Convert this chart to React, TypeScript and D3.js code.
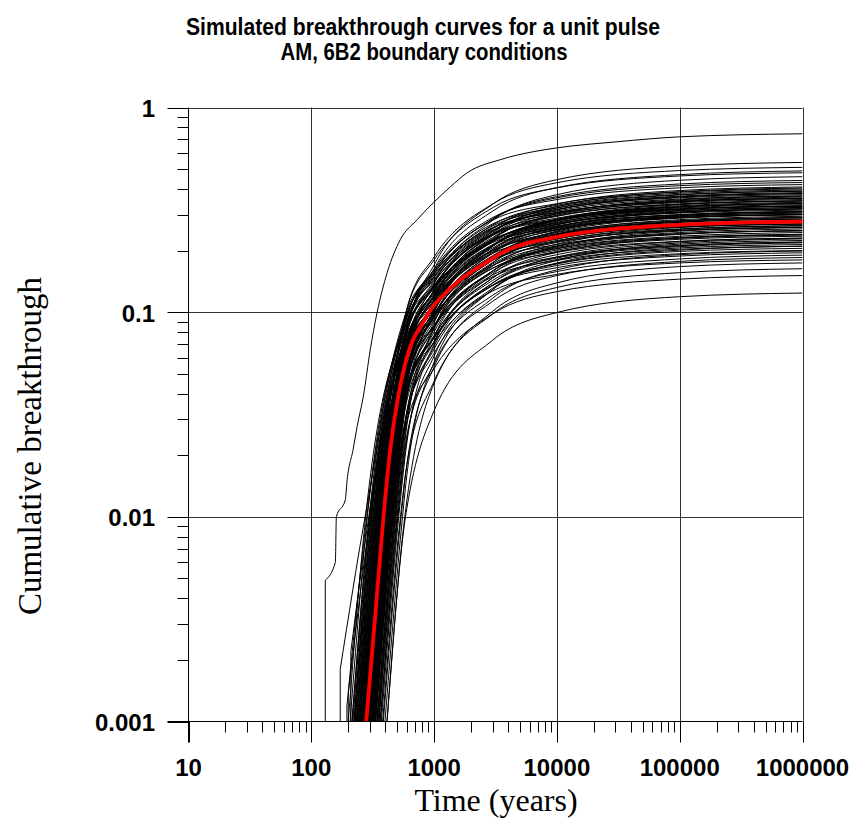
import React from 'react';
import * as d3 from 'd3';

// ---------- data ----------
const titleLines = ['Simulated breakthrough curves for a unit pulse', 'AM, 6B2 boundary conditions'];
const xLabel = 'Time (years)';
const yLabel = 'Cumulative breakthrough';

const xTickValues = [10, 100, 1000, 10000, 100000, 1000000];
const xTickLabels = ['10', '100', '1000', '10000', '100000', '1000000'];
const yTickValues = [0.001, 0.01, 0.1, 1];
const yTickLabels = ['0.001', '0.01', '0.1', '1'];

// knot times at which every simulated curve is sampled (after it reaches 0.01)
const knotTimes = [600, 1000, 3000, 10000, 100000, 1000000];

// first point of each simulated curve (time, value)
const startTime = [292, 256, 282, 247, 313, 275, 241, 304, 232, 267, 293, 223, 281, 257, 324, 214, 296, 247, 271, 341,
  237, 285, 313, 207, 261, 299, 228, 274, 330, 251, 288, 363, 200, 241, 277, 318, 265, 305, 350, 222,
  292, 256, 322, 234, 282, 372, 215, 271, 311, 249, 344, 286, 228, 315, 398, 264, 303, 366, 242, 334,
  292, 386, 280, 324, 356, 259, 413, 381, 320, 414, 172, 200, 210, 195,
  255, 307, 234, 282, 225, 327, 272, 249, 314, 218, 303, 264, 333, 243, 279, 307, 269, 354, 324, 298,
  261, 346, 318, 269, 263, 334];
const startValue = [0.001, 0.001, 0.001, 0.001, 0.001, 0.001, 0.001, 0.001, 0.001, 0.001, 0.001, 0.001, 0.001, 0.001, 0.001, 0.001, 0.001, 0.001, 0.001, 0.001,
  0.001, 0.001, 0.001, 0.001, 0.001, 0.001, 0.001, 0.001, 0.001, 0.001, 0.001, 0.001, 0.001, 0.001, 0.001, 0.001, 0.001, 0.001, 0.001, 0.001,
  0.001, 0.001, 0.001, 0.001, 0.001, 0.001, 0.001, 0.001, 0.001, 0.001, 0.001, 0.001, 0.001, 0.001, 0.001, 0.001, 0.001, 0.001, 0.001, 0.001,
  0.001, 0.001, 0.001, 0.001, 0.001, 0.001, 0.001, 0.001, 0.001, 0.001, 0.0018, 0.0014, 0.0022, 0.0012,
  0.001, 0.001, 0.001, 0.001, 0.001, 0.001, 0.001, 0.001, 0.001, 0.001, 0.001, 0.001, 0.001, 0.001, 0.001, 0.001, 0.001, 0.001, 0.001, 0.001,
  0.001, 0.001, 0.001, 0.001, 0.001, 0.001];
// time at which each curve reaches 0.01
const time01 = [406, 356, 392, 342, 434, 380, 333, 421, 321, 370, 406, 308, 388, 356, 448, 296, 409, 342, 375, 472,
  328, 394, 432, 286, 361, 414, 316, 379, 456, 348, 399, 502, 277, 333, 383, 440, 367, 422, 484, 307,
  405, 354, 446, 325, 391, 515, 299, 376, 432, 345, 476, 398, 317, 438, 553, 367, 422, 508, 337, 466,
  406, 538, 390, 452, 498, 362, 577, 532, 449, 585, 274, 283, 294, 303,
  352, 425, 324, 390, 311, 452, 377, 345, 435, 302, 419, 365, 461, 336, 385, 425, 372, 490, 450, 413,
  362, 481, 442, 374, 364, 462];
// values at the knot times
const at600 = [0.082, 0.104, 0.083, 0.103, 0.063, 0.084, 0.095, 0.062, 0.096, 0.079, 0.066, 0.097, 0.072, 0.080, 0.050, 0.097, 0.061, 0.079, 0.071, 0.039,
  0.082, 0.065, 0.052, 0.094, 0.071, 0.056, 0.081, 0.065, 0.044, 0.070, 0.059, 0.028, 0.090, 0.072, 0.061, 0.046, 0.062, 0.049, 0.032, 0.075,
  0.053, 0.061, 0.041, 0.066, 0.053, 0.023, 0.071, 0.054, 0.042, 0.058, 0.033, 0.048, 0.062, 0.039, 0.016, 0.050, 0.042, 0.024, 0.053, 0.032,
  0.042, 0.018, 0.043, 0.032, 0.025, 0.043, 0.012, 0.018, 0.029, 0.011, 0.099, 0.102, 0.077, 0.083,
  0.085, 0.059, 0.090, 0.069, 0.090, 0.047, 0.068, 0.074, 0.049, 0.085, 0.052, 0.066, 0.040, 0.068, 0.058, 0.046, 0.057, 0.029, 0.039, 0.047,
  0.054, 0.031, 0.037, 0.044, 0.087, 0.045];
const at1000 = [0.170, 0.186, 0.163, 0.180, 0.138, 0.154, 0.162, 0.129, 0.159, 0.142, 0.129, 0.155, 0.133, 0.139, 0.111, 0.152, 0.120, 0.135, 0.127, 0.100,
  0.135, 0.119, 0.107, 0.143, 0.124, 0.110, 0.131, 0.116, 0.096, 0.120, 0.108, 0.084, 0.135, 0.119, 0.109, 0.095, 0.109, 0.096, 0.083, 0.118,
  0.098, 0.104, 0.085, 0.106, 0.095, 0.070, 0.108, 0.094, 0.083, 0.095, 0.072, 0.086, 0.097, 0.076, 0.057, 0.085, 0.077, 0.061, 0.086, 0.066,
  0.075, 0.054, 0.075, 0.063, 0.056, 0.071, 0.045, 0.046, 0.053, 0.033, 0.149, 0.156, 0.117, 0.131,
  0.148, 0.121, 0.149, 0.127, 0.145, 0.104, 0.122, 0.125, 0.102, 0.133, 0.101, 0.114, 0.089, 0.113, 0.104, 0.091, 0.099, 0.076, 0.080, 0.086,
  0.092, 0.068, 0.072, 0.075, 0.157, 0.115];
const at3000 = [0.337, 0.338, 0.312, 0.324, 0.281, 0.286, 0.290, 0.256, 0.282, 0.258, 0.248, 0.270, 0.247, 0.250, 0.226, 0.257, 0.229, 0.242, 0.232, 0.210,
  0.240, 0.221, 0.212, 0.238, 0.223, 0.210, 0.227, 0.212, 0.196, 0.214, 0.202, 0.182, 0.219, 0.212, 0.199, 0.187, 0.196, 0.185, 0.174, 0.200,
  0.182, 0.186, 0.168, 0.185, 0.172, 0.153, 0.180, 0.169, 0.159, 0.169, 0.147, 0.156, 0.164, 0.147, 0.129, 0.152, 0.143, 0.129, 0.149, 0.131,
  0.136, 0.117, 0.135, 0.121, 0.113, 0.127, 0.101, 0.098, 0.098, 0.073, 0.241, 0.259, 0.194, 0.222,
  0.267, 0.240, 0.264, 0.237, 0.252, 0.211, 0.222, 0.224, 0.203, 0.225, 0.194, 0.206, 0.180, 0.201, 0.189, 0.175, 0.179, 0.159, 0.159, 0.159,
  0.164, 0.139, 0.139, 0.135, 0.285, 0.243];
const at1e4 = [0.444, 0.429, 0.406, 0.405, 0.375, 0.367, 0.355, 0.337, 0.339, 0.328, 0.323, 0.323, 0.317, 0.312, 0.302, 0.307, 0.298, 0.296, 0.294, 0.284,
  0.288, 0.284, 0.279, 0.282, 0.279, 0.274, 0.272, 0.269, 0.261, 0.262, 0.259, 0.249, 0.258, 0.254, 0.252, 0.247, 0.245, 0.240, 0.235, 0.239,
  0.234, 0.228, 0.222, 0.221, 0.219, 0.209, 0.214, 0.211, 0.207, 0.204, 0.196, 0.198, 0.196, 0.191, 0.179, 0.186, 0.184, 0.174, 0.179, 0.173,
  0.172, 0.161, 0.169, 0.158, 0.151, 0.153, 0.139, 0.132, 0.126, 0.0996, 0.284, 0.308, 0.231, 0.264,
  0.333, 0.316, 0.318, 0.305, 0.302, 0.282, 0.282, 0.275, 0.267, 0.269, 0.253, 0.257, 0.241, 0.242, 0.240, 0.228, 0.224, 0.215, 0.210, 0.205,
  0.201, 0.186, 0.181, 0.165, 0.362, 0.328];
const at1e5 = [0.518, 0.492, 0.470, 0.463, 0.441, 0.423, 0.405, 0.393, 0.386, 0.376, 0.374, 0.367, 0.365, 0.357, 0.354, 0.348, 0.346, 0.338, 0.337, 0.335,
  0.328, 0.327, 0.326, 0.319, 0.318, 0.317, 0.309, 0.308, 0.307, 0.299, 0.298, 0.296, 0.291, 0.290, 0.289, 0.288, 0.280, 0.278, 0.278, 0.271,
  0.269, 0.261, 0.259, 0.251, 0.251, 0.249, 0.242, 0.241, 0.240, 0.232, 0.230, 0.227, 0.222, 0.221, 0.215, 0.212, 0.211, 0.206, 0.203, 0.201,
  0.198, 0.191, 0.193, 0.182, 0.177, 0.174, 0.167, 0.156, 0.145, 0.119, 0.320, 0.348, 0.261, 0.300,
  0.381, 0.369, 0.362, 0.351, 0.343, 0.331, 0.323, 0.314, 0.312, 0.305, 0.293, 0.294, 0.283, 0.275, 0.275, 0.264, 0.255, 0.254, 0.245, 0.235,
  0.230, 0.218, 0.209, 0.188, 0.415, 0.388];
const at1e6 = [0.539, 0.510, 0.490, 0.480, 0.459, 0.440, 0.420, 0.409, 0.400, 0.390, 0.390, 0.380, 0.380, 0.370, 0.369, 0.360, 0.360, 0.350, 0.350, 0.349,
  0.340, 0.340, 0.339, 0.330, 0.330, 0.330, 0.320, 0.320, 0.319, 0.310, 0.310, 0.309, 0.300, 0.300, 0.300, 0.299, 0.290, 0.290, 0.289, 0.280,
  0.280, 0.270, 0.269, 0.260, 0.260, 0.259, 0.250, 0.250, 0.250, 0.240, 0.240, 0.235, 0.230, 0.230, 0.224, 0.220, 0.220, 0.214, 0.210, 0.210,
  0.205, 0.199, 0.200, 0.190, 0.185, 0.180, 0.174, 0.163, 0.151, 0.124, 0.330, 0.360, 0.270, 0.310,
  0.395, 0.384, 0.375, 0.365, 0.355, 0.344, 0.335, 0.325, 0.324, 0.315, 0.305, 0.305, 0.294, 0.285, 0.285, 0.275, 0.265, 0.264, 0.255, 0.245,
  0.238, 0.228, 0.218, 0.195, 0.430, 0.404];

// the early, highest realisation
const outlierTimes = [130, 157, 160, 189, 196, 219, 236, 265, 302, 343, 415, 530, 728, 984, 1353, 1862, 3454, 6412, 10000, 30900, 100000, 1000000];
const outlierValues = [0.0049, 0.006, 0.0100, 0.0121, 0.0152, 0.0213, 0.0276, 0.0386, 0.0655, 0.0993, 0.156, 0.226, 0.283, 0.342, 0.409, 0.480, 0.556, 0.608, 0.635, 0.680, 0.719, 0.744];

// mean curve (red)
const meanTimes = [280, 331, 387, 439, 501, 571, 663, 785, 983, 1186, 1542, 2706, 3451, 10000, 100000, 1000000];
const meanValues = [0.001, 0.00325, 0.01, 0.0212, 0.0365, 0.0535, 0.0717, 0.086, 0.107, 0.121, 0.140, 0.176, 0.193, 0.233, 0.267, 0.277];

// ---------- layout ----------
const W = 855, H = 822;
const X0 = 188.5, X1 = 802.5, Y0 = 721.5, Y1 = 107.5;
const SANS = '"Liberation Sans", Arial, Helvetica, sans-serif';
const SERIF = '"Liberation Serif", "Times New Roman", serif';

type Pt = [number, number];

export default function App() {
  const x = d3.scaleLog().domain([10, 1e6]).range([X0, X1]);
  const y = d3.scaleLog().domain([0.001, 1]).range([Y0, Y1]);
  const line = d3.line<Pt>().x(d => x(d[0])).y(d => y(d[1])).curve(d3.curveMonotoneX);

  const isMajor = (v: number) => Math.abs(Math.log10(v) - Math.round(Math.log10(v))) < 1e-9;
  const xMinor = x.ticks().filter(v => !isMajor(v));
  const yMinor = y.ticks().filter(v => !isMajor(v));

  const curves = startTime.map((t0, i) => {
    const pts: Pt[] = [[t0, startValue[i]]];
    if (time01[i] > t0) pts.push([time01[i], 0.01]);
    const vals = [at600[i], at1000[i], at3000[i], at1e4[i], at1e5[i], at1e6[i]];
    knotTimes.forEach((kt, k) => {
      if (kt > time01[i] * 1.02) pts.push([kt, vals[k]]);
    });
    return pts;
  });
  const outlier: Pt[] = outlierTimes.map((t, i) => [t, outlierValues[i]]);
  const mean: Pt[] = meanTimes.map((t, i) => [t, meanValues[i]]);

  return (
    <svg width={W} height={H} viewBox={`0 0 ${W} ${H}`}
      style={{ position: 'absolute', left: 0, top: 0, background: '#fff' }}>
      <defs>
        <clipPath id="plotClip">
          <rect x={X0} y={Y1} width={X1 - X0} height={Y0 - Y1} />
        </clipPath>
      </defs>
      <rect x={0} y={0} width={W} height={H} fill="#fff" />

      {/* title */}
      <text x={423} y={35} textAnchor="middle" fontFamily={SANS} fontWeight="bold" fontSize={24}
        textLength={474} lengthAdjust="spacingAndGlyphs" fill="#000">{titleLines[0]}</text>
      <text x={424} y={60} textAnchor="middle" fontFamily={SANS} fontWeight="bold" fontSize={24}
        textLength={287} lengthAdjust="spacingAndGlyphs" fill="#000">{titleLines[1]}</text>

      {/* grid */}
      <g stroke="#333" strokeWidth={1}>
        {xTickValues.slice(1).map(v => (
          <line key={'gx' + v} x1={Math.round(x(v)) + 0.5} x2={Math.round(x(v)) + 0.5} y1={Y1} y2={Y0} />
        ))}
        {yTickValues.slice(1).map(v => (
          <line key={'gy' + v} x1={X0} x2={X1} y1={Math.round(y(v)) + 0.5} y2={Math.round(y(v)) + 0.5} />
        ))}
      </g>

      {/* curves */}
      <g clipPath="url(#plotClip)" fill="none">
        {curves.map((pts, i) => (
          <g key={'c' + i}>
            {startValue[i] > 0.001 && (
              <line x1={x(pts[0][0])} x2={x(pts[0][0])} y1={Y0} y2={y(pts[0][1])} stroke="#000" strokeWidth={1} />
            )}
            <path d={line(pts) || ''} stroke="#000" strokeWidth={1} />
          </g>
        ))}
        <line x1={x(outlier[0][0])} x2={x(outlier[0][0])} y1={Y0} y2={y(outlier[0][1])} stroke="#000" strokeWidth={1} />
        <path d={line(outlier) || ''} stroke="#000" strokeWidth={1} />
        <path d={line(mean) || ''} stroke="#ff0000" strokeWidth={3.8} strokeLinejoin="round" />
      </g>

      {/* axes */}
      <g stroke="#000" strokeWidth={1}>
        <line x1={X0} x2={X0} y1={Y1} y2={Y0 + 21} />
        <line x1={X0 - 21} x2={X1} y1={Y0} y2={Y0} />
        {xTickValues.map(v => (
          <line key={'xt' + v} x1={Math.round(x(v)) + 0.5} x2={Math.round(x(v)) + 0.5} y1={Y0} y2={Y0 + 21} />
        ))}
        {xMinor.map(v => (
          <line key={'xm' + v} x1={Math.round(x(v)) + 0.5} x2={Math.round(x(v)) + 0.5} y1={Y0} y2={Y0 + 11} />
        ))}
        {yTickValues.map(v => (
          <line key={'yt' + v} x1={X0 - 21} x2={X0} y1={Math.round(y(v)) + 0.5} y2={Math.round(y(v)) + 0.5} />
        ))}
        {yMinor.map(v => (
          <line key={'ym' + v} x1={X0 - 11} x2={X0} y1={Math.round(y(v)) + 0.5} y2={Math.round(y(v)) + 0.5} />
        ))}
      </g>

      {/* tick labels */}
      <g fontFamily={SANS} fontWeight="bold" fontSize={24} fill="#000">
        {xTickValues.map((v, i) => (
          <text key={'xl' + v} x={x(v)} y={776} textAnchor="middle">{xTickLabels[i]}</text>
        ))}
        {yTickValues.map((v, i) => (
          <text key={'yl' + v} x={155} y={y(v) + 9.5} textAnchor="end">{yTickLabels[i]}</text>
        ))}
      </g>

      {/* axis titles */}
      <text x={496} y={811} textAnchor="middle" fontFamily={SERIF} fontSize={32} fill="#000">{xLabel}</text>
      <text transform={`translate(41, 446) rotate(-90)`} textAnchor="middle" fontFamily={SERIF} fontSize={33} fill="#000">{yLabel}</text>
    </svg>
  );
}
